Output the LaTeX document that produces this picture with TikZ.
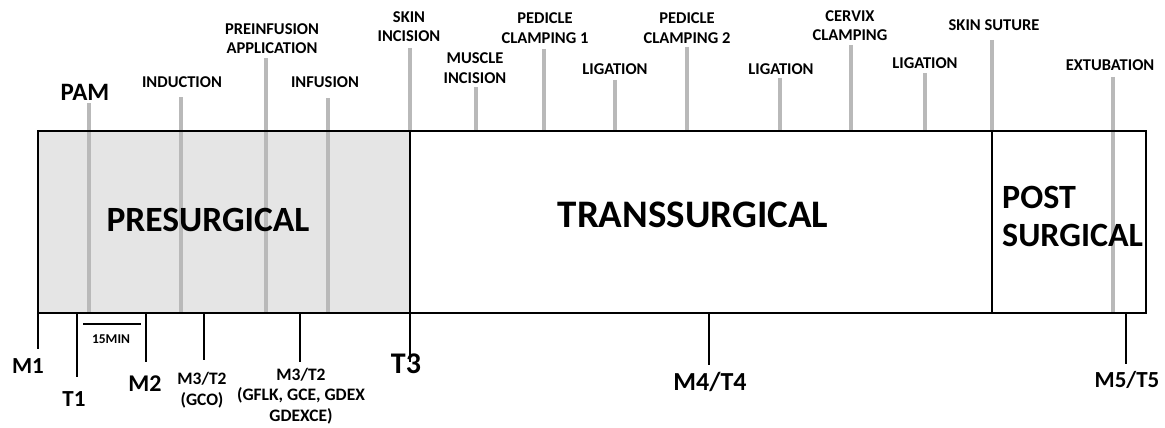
\documentclass[tikz,border=0pt]{standalone}
\usepackage{fontspec}
\setmainfont{Carlito}

\begin{document}
\begin{tikzpicture}[x=1pt,y=-1pt,
    event/.style={gray!55, line width=3.5pt},
    tick/.style={line width=2.6pt},
    frame/.style={line width=2.8pt},
    toplabel/.style={font=\fontsize{16.5}{19.5}\selectfont\bfseries, align=center, inner sep=0pt},
    timelabel/.style={font=\fontsize{23}{24}\selectfont\bfseries, inner sep=0pt},
    grouplabel/.style={font=\fontsize{17.5}{20.5}\selectfont\bfseries, align=center, inner sep=0pt},
    phaselabel/.style={font=\fontsize{35.5}{38}\selectfont\bfseries, inner sep=0pt}]
    \useasboundingbox (0,0) rectangle (1165,428);

    % presurgical shading
    \fill[gray!20] (38,131) rectangle (410,313);

    % event lines
    \foreach \x/\ytop/\ybot in {89/103/313,181/97/313,266/58/313,328/98/313,
                                410/48/131,476/87/131,544/49/131,615/80/131,
                                687/47/131,780/78/131,851/45/131,925/73/131,
                                992/40/131,1113/77/313}
    {
      \draw[event] (\x,\ytop) -- (\x,\ybot);
    }

    % phases
    \draw[frame] (38,131) rectangle (1146,313);
    \draw[frame] (410,131) -- (410,313);
    \draw[frame] (992,131) -- (992,313);

    \node[phaselabel] (pre) at (208,220) {PRESURGICAL};
    \node[phaselabel, font=\fontsize{39}{40}\selectfont\bfseries] (trans) at (693,215) {TRANSSURGICAL};
    \node[phaselabel, font=\fontsize{34}{38}\selectfont\bfseries, align=left, anchor=west] (post) at (1002,216) {POST\\SURGICAL};

    % events
    \node[toplabel, font=\fontsize{25}{28}\selectfont\bfseries] (pam) at (85,92) {PAM};
    \node[toplabel] (induction) at (182,82) {INDUCTION};
    \node[toplabel] (preinf) at (272,38.5) {PREINFUSION\\APPLICATION};
    \node[toplabel] (infusion) at (325,82) {INFUSION};
    \node[toplabel] (skininc) at (409,26.5) {SKIN\\INCISION};
    \node[toplabel] (muscle) at (475,68) {MUSCLE\\INCISION};
    \node[toplabel] (pedicle1) at (545,28) {PEDICLE\\CLAMPING 1};
    \node[toplabel] (lig1) at (615,69) {LIGATION};
    \node[toplabel] (pedicle2) at (687,28) {PEDICLE\\CLAMPING 2};
    \node[toplabel] (lig2) at (781,69) {LIGATION};
    \node[toplabel] (cervix) at (850,25.5) {CERVIX\\CLAMPING};
    \node[toplabel] (lig3) at (925,63) {LIGATION};
    \node[toplabel] (suture) at (994,25) {SKIN SUTURE};
    \node[toplabel] (extub) at (1110,65) {EXTUBATION};

    % measurement times
    \foreach \x/\yend in {38/349,77/377,146/362,204/360,300/362,410/362,709/365,1126/364}
    {
      \draw[tick] (\x,313) -- (\x,\yend);
    }
    \node[timelabel] (m1) at (28,366) {M1};
    \node[timelabel] (t1) at (74,399) {T1};
    \node[timelabel, font=\fontsize{24}{24}\selectfont\bfseries] (m2) at (145,384) {M2};
    \node[timelabel, font=\fontsize{30}{30}\selectfont\bfseries] (t3) at (406,364) {T3};
    \node[timelabel, font=\fontsize{26}{26}\selectfont\bfseries] (m4) at (710,382) {M4/T4};
    \node[timelabel] (m5) at (1127,380) {M5/T5};
    \node[grouplabel] (gco) at (202,390) {M3/T2\\(GCO)};
    \node[grouplabel] (gflk) at (301,396) {M3/T2\\(GFLK, GCE, GDEX\\GDEXCE)};

    % scale bar
    \draw[line width=1.2pt] (83,324) -- (141,324);
    \node[font=\fontsize{13.5}{14}\selectfont\bfseries, inner sep=0pt] (scale) at (111,339) {15MIN};
\end{tikzpicture}
\end{document}
